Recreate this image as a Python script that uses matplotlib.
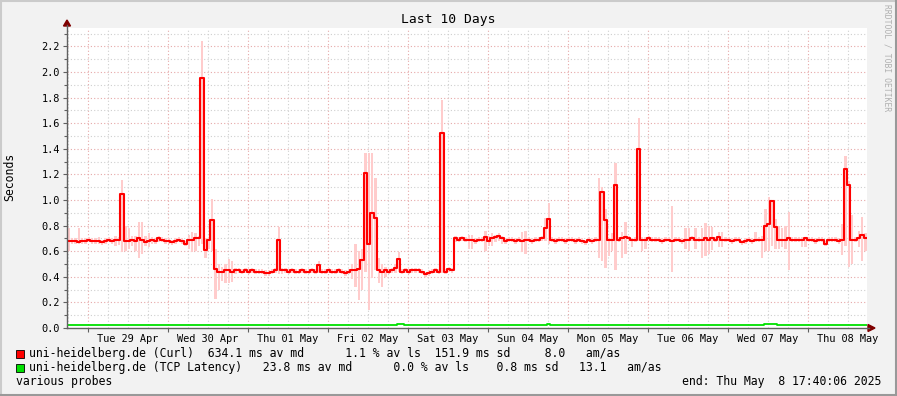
import numpy as np
import matplotlib
matplotlib.use("Agg")
import matplotlib.pyplot as plt
from matplotlib.patches import Rectangle, Polygon
from matplotlib.lines import Line2D

W, H = 897, 396
MONO = "DejaVu Sans Mono"

# x axis: hours from graph start (Mon Apr 28 17:40:06), one value per hour
day_labels = ["Tue 29 Apr", "Wed 30 Apr", "Thu 01 May", "Fri 02 May", "Sat 03 May",
              "Sun 04 May", "Mon 05 May", "Tue 06 May", "Wed 07 May", "Thu 08 May"]
first_midnight = 6.332

# uni-heidelberg.de (Curl): hourly median and smoke range, seconds
curl_median = [
    0.68, 0.68, 0.68, 0.67, 0.68, 0.68, 0.69, 0.68, 0.68, 0.68, 0.67, 0.68, 0.69, 0.68, 0.69, 0.69, 1.05, 0.68, 0.68, 0.69, 0.68, 0.70, 0.69, 0.67,
    0.68, 0.69, 0.68, 0.70, 0.69, 0.68, 0.68, 0.67, 0.68, 0.69, 0.68, 0.66, 0.69, 0.69, 0.70, 0.70, 1.95, 0.61, 0.69, 0.84, 0.46, 0.44, 0.44, 0.45,
    0.45, 0.44, 0.45, 0.45, 0.44, 0.45, 0.44, 0.45, 0.44, 0.44, 0.44, 0.43, 0.43, 0.44, 0.45, 0.69, 0.45, 0.45, 0.44, 0.45, 0.44, 0.44, 0.45, 0.44,
    0.44, 0.45, 0.44, 0.49, 0.44, 0.44, 0.45, 0.44, 0.44, 0.45, 0.44, 0.43, 0.44, 0.45, 0.45, 0.46, 0.53, 1.21, 0.66, 0.90, 0.86, 0.45, 0.44, 0.45,
    0.44, 0.45, 0.47, 0.54, 0.44, 0.45, 0.44, 0.45, 0.45, 0.45, 0.44, 0.42, 0.43, 0.44, 0.45, 0.44, 1.52, 0.44, 0.46, 0.45, 0.70, 0.69, 0.70, 0.69,
    0.69, 0.69, 0.68, 0.69, 0.69, 0.71, 0.68, 0.70, 0.71, 0.72, 0.70, 0.68, 0.69, 0.69, 0.68, 0.69, 0.68, 0.69, 0.69, 0.68, 0.69, 0.69, 0.70, 0.78,
    0.85, 0.69, 0.68, 0.69, 0.69, 0.68, 0.69, 0.69, 0.68, 0.69, 0.68, 0.67, 0.69, 0.68, 0.69, 0.69, 1.06, 0.84, 0.69, 0.69, 1.12, 0.69, 0.70, 0.71,
    0.70, 0.69, 0.69, 1.40, 0.69, 0.69, 0.70, 0.69, 0.69, 0.69, 0.68, 0.69, 0.69, 0.68, 0.69, 0.69, 0.68, 0.69, 0.69, 0.70, 0.69, 0.69, 0.69, 0.70,
    0.69, 0.70, 0.69, 0.71, 0.69, 0.69, 0.69, 0.68, 0.69, 0.69, 0.67, 0.68, 0.69, 0.68, 0.69, 0.69, 0.69, 0.80, 0.81, 0.99, 0.79, 0.69, 0.69, 0.69,
    0.70, 0.69, 0.69, 0.69, 0.69, 0.70, 0.69, 0.69, 0.68, 0.69, 0.69, 0.66, 0.69, 0.69, 0.69, 0.68, 0.69, 1.24, 1.12, 0.69, 0.69, 0.70, 0.73, 0.70,
]
curl_smoke_lo = [
    0.60, 0.66, 0.66, 0.66, 0.66, 0.66, 0.67, 0.66, 0.66, 0.66, 0.65, 0.66, 0.67, 0.66, 0.64, 0.65, 0.59, 0.60, 0.62, 0.64, 0.60, 0.55, 0.58, 0.64,
    0.63, 0.66, 0.66, 0.67, 0.67, 0.66, 0.66, 0.65, 0.66, 0.67, 0.66, 0.64, 0.62, 0.59, 0.60, 0.64, 0.66, 0.55, 0.62, 0.60, 0.23, 0.30, 0.37, 0.35,
    0.35, 0.36, 0.42, 0.43, 0.42, 0.43, 0.42, 0.43, 0.42, 0.42, 0.42, 0.41, 0.41, 0.42, 0.43, 0.42, 0.42, 0.43, 0.42, 0.43, 0.42, 0.42, 0.43, 0.42,
    0.42, 0.43, 0.42, 0.43, 0.42, 0.42, 0.43, 0.42, 0.42, 0.43, 0.42, 0.41, 0.42, 0.38, 0.32, 0.22, 0.30, 0.44, 0.14, 0.39, 0.45, 0.35, 0.32, 0.40,
    0.42, 0.43, 0.43, 0.44, 0.42, 0.43, 0.42, 0.43, 0.43, 0.43, 0.42, 0.40, 0.41, 0.42, 0.43, 0.42, 0.43, 0.42, 0.44, 0.43, 0.67, 0.67, 0.68, 0.67,
    0.62, 0.62, 0.66, 0.67, 0.67, 0.60, 0.64, 0.64, 0.67, 0.68, 0.66, 0.66, 0.67, 0.67, 0.66, 0.67, 0.59, 0.58, 0.67, 0.66, 0.67, 0.67, 0.68, 0.68,
    0.66, 0.67, 0.66, 0.67, 0.67, 0.66, 0.67, 0.67, 0.66, 0.67, 0.66, 0.65, 0.67, 0.66, 0.67, 0.55, 0.52, 0.47, 0.56, 0.60, 0.45, 0.67, 0.55, 0.58,
    0.68, 0.63, 0.67, 0.68, 0.60, 0.62, 0.68, 0.67, 0.67, 0.67, 0.66, 0.67, 0.67, 0.44, 0.67, 0.67, 0.66, 0.62, 0.60, 0.68, 0.62, 0.67, 0.55, 0.56,
    0.58, 0.61, 0.67, 0.63, 0.63, 0.67, 0.67, 0.66, 0.67, 0.67, 0.65, 0.66, 0.67, 0.66, 0.67, 0.67, 0.55, 0.60, 0.60, 0.64, 0.62, 0.62, 0.63, 0.62,
    0.45, 0.67, 0.67, 0.67, 0.63, 0.63, 0.67, 0.67, 0.66, 0.67, 0.67, 0.64, 0.67, 0.67, 0.67, 0.66, 0.57, 0.64, 0.48, 0.50, 0.67, 0.63, 0.52, 0.60,
]
curl_smoke_hi = [
    0.78, 0.70, 0.70, 0.78, 0.70, 0.70, 0.71, 0.70, 0.70, 0.71, 0.69, 0.70, 0.71, 0.70, 0.72, 0.71, 1.16, 0.80, 0.78, 0.72, 0.72, 0.83, 0.83, 0.72,
    0.74, 0.71, 0.70, 0.72, 0.71, 0.70, 0.70, 0.69, 0.70, 0.71, 0.70, 0.68, 0.73, 0.75, 0.74, 0.72, 2.24, 0.70, 0.71, 1.01, 0.62, 0.50, 0.48, 0.50,
    0.54, 0.52, 0.47, 0.47, 0.46, 0.47, 0.46, 0.47, 0.46, 0.46, 0.46, 0.45, 0.45, 0.46, 0.47, 0.79, 0.47, 0.47, 0.46, 0.47, 0.46, 0.46, 0.47, 0.46,
    0.46, 0.47, 0.46, 0.52, 0.46, 0.46, 0.47, 0.46, 0.46, 0.47, 0.46, 0.45, 0.46, 0.50, 0.66, 0.60, 0.62, 1.37, 1.37, 1.37, 1.17, 0.55, 0.50, 0.48,
    0.46, 0.47, 0.50, 0.59, 0.46, 0.47, 0.46, 0.47, 0.47, 0.47, 0.46, 0.44, 0.45, 0.46, 0.47, 0.46, 1.78, 0.46, 0.48, 0.47, 0.72, 0.71, 0.72, 0.71,
    0.73, 0.73, 0.70, 0.71, 0.71, 0.76, 0.72, 0.74, 0.73, 0.74, 0.72, 0.70, 0.71, 0.71, 0.70, 0.71, 0.75, 0.76, 0.71, 0.70, 0.71, 0.71, 0.72, 0.86,
    0.98, 0.71, 0.70, 0.71, 0.71, 0.70, 0.71, 0.71, 0.70, 0.71, 0.70, 0.69, 0.71, 0.70, 0.71, 1.17, 1.10, 0.93, 0.70, 0.74, 1.29, 0.71, 0.75, 0.83,
    0.72, 0.70, 0.71, 1.64, 0.71, 0.71, 0.72, 0.71, 0.71, 0.71, 0.70, 0.71, 0.71, 0.95, 0.71, 0.71, 0.70, 0.78, 0.78, 0.72, 0.78, 0.71, 0.78, 0.82,
    0.80, 0.79, 0.71, 0.75, 0.75, 0.71, 0.71, 0.70, 0.71, 0.71, 0.69, 0.70, 0.71, 0.70, 0.75, 0.71, 0.72, 0.93, 1.02, 1.00, 0.85, 0.80, 0.78, 0.80,
    0.91, 0.71, 0.71, 0.71, 0.71, 0.71, 0.71, 0.71, 0.70, 0.71, 0.71, 0.68, 0.71, 0.71, 0.71, 0.70, 0.81, 1.34, 1.15, 0.88, 0.71, 0.76, 0.87, 0.74,
]

# uni-heidelberg.de (TCP Latency): change points (hour, seconds)
tcp_hours = [0, 99, 101, 144, 145, 209, 213]
tcp_values = [0.024, 0.030, 0.024, 0.028, 0.024, 0.031, 0.024]

y_ticks = [0.0, 0.2, 0.4, 0.6, 0.8, 1.0, 1.2, 1.4, 1.6, 1.8, 2.0, 2.2]
legend_rows = [
    ("uni-heidelberg.de (Curl)  634.1 ms av md      1.1 % av ls  151.9 ms sd     8.0   am/as", "#ff0000"),
    ("uni-heidelberg.de (TCP Latency)   23.8 ms av md      0.0 % av ls    0.8 ms sd   13.1   am/as", "#00e000"),
]


def px(x, y):
    return x / W, 1 - y / H


fig = plt.figure(figsize=(W / 100, H / 100), dpi=100, facecolor="#f2f2f2")
ax = fig.add_axes([67 / W, (H - 328) / H, 800 / W, 300 / H])
ax.set_facecolor("white")
n_hours = len(curl_median)
ax.set_xlim(0, n_hours)
ax.set_ylim(0, 2.344)

# grid: 6 hourly minor, daily major; 0.1 minor, 0.2 major
dot = (0, (1, 2))
for h in np.arange(first_midnight % 6, n_hours, 6):
    major = abs(((h - first_midnight) / 24) - round((h - first_midnight) / 24)) < 1e-6
    ax.axvline(h, color="#e6a8a8" if major else "#cfcfcf", lw=0.8, ls=dot, zorder=0.5)
for k in range(1, 24):
    ax.axhline(k / 10, color="#e6a8a8" if k % 2 == 0 else "#cfcfcf", lw=0.8, ls=dot, zorder=0.5)

# smoke as thin vertical bars, median as stepped line
hours = np.arange(n_hours)
lo = np.array(curl_smoke_lo)
hi = np.array(curl_smoke_hi)
ax.bar(hours + 0.5, hi - lo, bottom=lo, width=0.7, color="#ffcccc", lw=0, zorder=2)
edges = np.arange(n_hours + 1)
ax.step(edges, curl_median + curl_median[-1:], where="post", color="#ff0000", lw=1.5, zorder=3)
ax.step(tcp_hours + [n_hours], tcp_values + tcp_values[-1:], where="post",
        color="#00e000", lw=1.3, zorder=3)

for s in ax.spines.values():
    s.set_visible(False)

# ticks
noon = [first_midnight + 12 + 24 * i for i in range(len(day_labels))]
ax.set_xticks(noon)
ax.set_xticklabels(day_labels, fontfamily=MONO, fontsize=7.4)
ax.set_xticks([first_midnight + 24 * i for i in range(len(day_labels))], minor=True)
ax.tick_params(axis="x", which="major", length=0, pad=4.5)
ax.tick_params(axis="x", which="minor", length=3, color="#606060", width=0.8)
ax.set_yticks(y_ticks)
ax.set_yticklabels([f"{v:.1f}" for v in y_ticks], fontfamily=MONO, fontsize=7.4)
ax.set_yticks(np.arange(0.1, 2.35, 0.2), minor=True)
ax.tick_params(axis="y", which="major", length=3, color="#606060", width=0.8, pad=2)
ax.tick_params(axis="y", which="minor", length=2, color="#606060", width=0.8)

# axes with arrows
fig.add_artist(Line2D([px(67, 0)[0]] * 2, [px(0, 328)[1], px(0, 25)[1]], color="#606060", lw=1))
fig.add_artist(Line2D([px(67, 0)[0], px(869, 0)[0]], [px(0, 328)[1]] * 2, color="#606060", lw=1))
fig.add_artist(Polygon([px(67, 20), px(63.5, 26), px(70.5, 26)], closed=True,
                       transform=fig.transFigure, color="#7f0000"))
fig.add_artist(Polygon([px(875, 328), px(868, 324.5), px(868, 331.5)], closed=True,
                       transform=fig.transFigure, color="#7f0000"))

# frame shading
fig.add_artist(Line2D([0, 1], [1 - 1 / H] * 2, color="#cbcbcb", lw=1.5))
fig.add_artist(Line2D([1 / W] * 2, [0, 1], color="#cbcbcb", lw=1.5))
fig.add_artist(Line2D([0, 1], [1 / H] * 2, color="#999999", lw=1.5))
fig.add_artist(Line2D([1 - 1 / W] * 2, [0, 1], color="#999999", lw=1.5))

fig.text(*px(448, 19), "Last 10 Days", ha="center", va="center", fontfamily=MONO, fontsize=9.4)
fig.text(*px(10, 177), "Seconds", rotation=90, ha="center", va="center", fontfamily=MONO, fontsize=8.3)
fig.text(*px(887, 58), "RRDTOOL / TOBI OETIKER", rotation=270, ha="center", va="center",
         fontfamily=MONO, fontsize=5.8, color="#b0b0b0")

for i, (text, color) in enumerate(legend_rows):
    yc = 354 + 14 * i
    fig.add_artist(Rectangle(px(15.5, yc + 4), 8 / W, 8 / H, transform=fig.transFigure,
                             facecolor=color, edgecolor="black", lw=0.6))
    fig.text(*px(29, yc), text, ha="left", va="center", fontfamily=MONO, fontsize=8.3)
fig.text(*px(16, 382), "various probes", ha="left", va="center", fontfamily=MONO, fontsize=8.3)
fig.text(*px(881, 382), "end: Thu May  8 17:40:06 2025", ha="right", va="center",
         fontfamily=MONO, fontsize=8.3)

fig.savefig("out.png", dpi=100, facecolor=fig.get_facecolor())
